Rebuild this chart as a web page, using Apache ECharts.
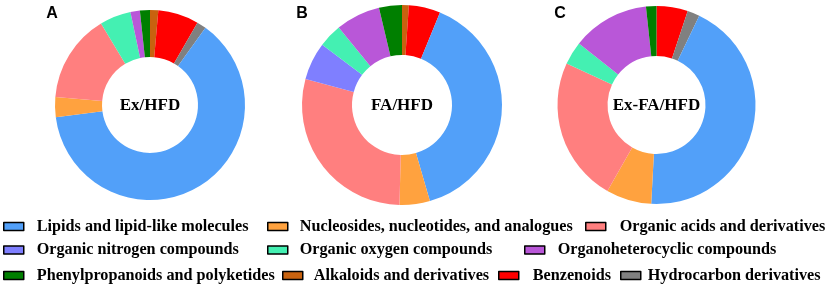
<!DOCTYPE html>
<html><head><meta charset="utf-8">
<script src="https://cdn.jsdelivr.net/npm/echarts@6/dist/echarts.min.js"></script>
<style>html,body{margin:0;padding:0;background:#fff}#c{width:829px;height:289px}</style>
</head><body><div id="c"></div>
<script>
// categories in drawing order (alphabetical, clockwise from 12 o'clock)
const categories = ['Alkaloids and derivatives','Benzenoids','Hydrocarbon derivatives','Lipids and lipid-like molecules','Nucleosides, nucleotides, and analogues','Organic acids and derivatives','Organic nitrogen compounds','Organic oxygen compounds','Organoheterocyclic compounds','Phenylpropanoids and polyketides'];
const categoryColors = ['#C8620F','#FF0000','#808080','#52A0F9','#FFA23F','#FF7F7F','#7F7FFF','#44F0B2','#B957D8','#007F00'];
// percentages per group
const exHFD   = [1.4, 6.9, 1.6, 62.9, 3.4, 15.0, 0, 5.3, 1.6, 1.7];
const faHFD   = [1.1, 5.1, 0, 39.3, 4.9, 28.8, 6.1, 3.8, 7.2, 3.7];
const exFaHFD = [0, 5.1, 2.0, 43.7, 7.4, 23.6, 0, 3.8, 12.6, 1.7];
const groupNames = ['Ex/HFD','FA/HFD','Ex-FA/HFD'];
const panelLabels = ['A','B','C'];
// legend layout order
const legendRows = [
  ['Lipids and lipid-like molecules','Nucleosides, nucleotides, and analogues','Organic acids and derivatives'],
  ['Organic nitrogen compounds','Organic oxygen compounds','Organoheterocyclic compounds'],
  ['Phenylpropanoids and polyketides','Alkaloids and derivatives','Benzenoids','Hydrocarbon derivatives']
];

const groups = [exHFD, faHFD, exFaHFD];
const pieCenters = [[150,105],[402,105],[656.5,105]];
const pieRadii = [[48,95],[50,100],[49,99]];
const panelPos = [[52,14],[302,14],[560,14]];
const legendX = [[3,267,585],[3,267,524],[3,282,498,620]];
const legendPad = [[13,12,14],[13,12,13],[13,11,14,7]];
const legendY = [218.5,242,267.5];

const series = groups.map((vals, g) => ({
  type: 'pie',
  name: groupNames[g],
  center: pieCenters[g],
  radius: pieRadii[g],
  startAngle: 90,
  clockwise: true,
  label: {show: false},
  labelLine: {show: false},
  emphasis: {disabled: true},
  itemStyle: {borderWidth: 0},
  data: categories.map((c, i) => ({name: c, value: vals[i], itemStyle: {color: categoryColors[i]}}))
}));

const legends = [];
legendRows.forEach((row, r) => {
  row.forEach((name, k) => {
    legends.push({
      data: [name],
      left: legendX[r][k],
      top: legendY[r],
      padding: 0,
      icon: 'rect',
      itemWidth: 20,
      itemHeight: 8,
      selectedMode: false,
      itemStyle: {borderColor: '#000', borderWidth: 1.5},
      textStyle: {fontFamily: '"Liberation Serif", "Times New Roman", serif', fontWeight: 'bold', fontSize: 16.2, color: '#000', padding: [0,0,0,legendPad[r][k]-5]}
    });
  });
});

const graphic = [];
groupNames.forEach((t, g) => {
  graphic.push({type: 'text', x: pieCenters[g][0], y: pieCenters[g][1] + 1,
    style: {text: t, font: 'bold 17px "Liberation Serif", "Times New Roman", serif', fill: '#000', align: 'center', verticalAlign: 'middle', textAlign: 'center', textVerticalAlign: 'middle'}});
  graphic.push({type: 'text', x: panelPos[g][0], y: panelPos[g][1],
    style: {text: panelLabels[g], font: 'bold 16px "Liberation Sans", Arial, sans-serif', fill: '#000', align: 'center', verticalAlign: 'middle', textAlign: 'center', textVerticalAlign: 'middle'}});
});

const chart = echarts.init(document.getElementById('c'), null, {renderer: 'canvas'});
chart.setOption({
  animation: false,
  backgroundColor: '#fff',
  legend: legends,
  series: series,
  graphic: graphic
});
</script></body></html>
